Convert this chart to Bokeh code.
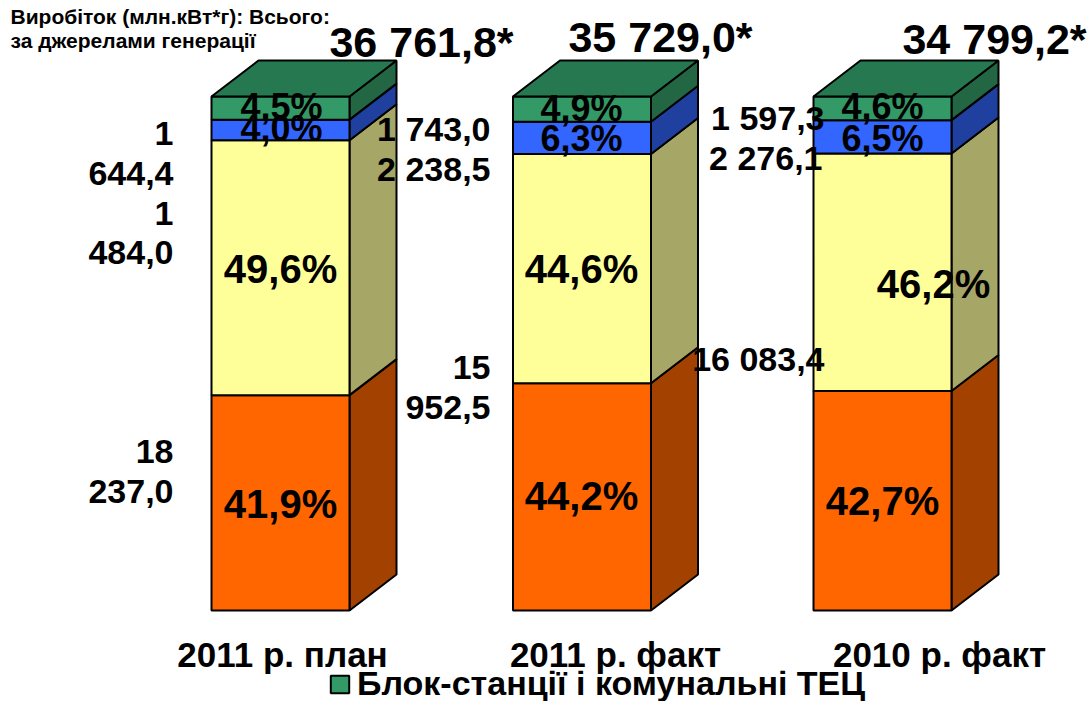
from bokeh.plotting import figure
from bokeh.models import Range1d, Legend, LegendItem
from bokeh.core.properties import value
from bokeh.embed import file_html
from bokeh.resources import INLINE

# ---- data
categories = ["2011 р. план", "2011 р. факт", "2010 р. факт"]
shares_orange = [41.9, 44.2, 42.7]
shares_yellow = [49.6, 44.6, 46.2]
shares_blue = [4.0, 6.3, 6.5]
shares_green = [4.5, 4.9, 4.6]
totals = ["36 761,8*", "35 729,0*", "34 799,2*"]
share_labels_orange = ["41,9%", "44,2%", "42,7%"]
share_labels_yellow = ["49,6%", "44,6%", "46,2%"]
share_labels_blue = ["4,0%", "6,3%", "6,5%"]
share_labels_green = ["4,5%", "4,9%", "4,6%"]
legend_label = "Блок-станції і комунальні ТЕЦ"
header_lines = ["Виробіток (млн.кВт*г): Всього:", "за джерелами генерації"]

# ---- layout (pixels of the picture -> data)
W, H = 1091, 701
OFF = 0
X0, PX_PER_BAR = 280.0, 301.5
Y0, PX_PER_PCT = 610.0, 5.14
def dx(px): return (px - X0) / PX_PER_BAR
def dy(py): return (Y0 - py) / PX_PER_PCT

BAR_W = 138 / PX_PER_BAR
DEPTH_X = 47 / PX_PER_BAR
DEPTH_Y = 36 / PX_PER_PCT
FONT = value("Liberation Sans")

p = figure(width=W, height=H, output_backend="svg", toolbar_location=None,
           x_range=Range1d(dx(OFF), dx(OFF + W)), y_range=Range1d(dy(OFF + H), dy(OFF)),
           min_border=0, outline_line_color=None)
p.axis.visible = False
p.grid.visible = False
p.background_fill_color = "white"
p.border_fill_color = "white"

layers = [
    (shares_orange, "#FF6600", "#A34100"),
    (shares_yellow, "#FFFF99", "#A6A666"),
    (shares_blue, "#3366FF", "#2040A0"),
    (shares_green, "#339966", "#226644"),
]
centers = [0, 1, 2.0 - 0.0033]
base = [0.0, 0.0, 0.0]
green_r = None
for vals, front, side in layers:
    top = [b + v for b, v in zip(base, vals)]
    xr = [c + BAR_W / 2 for c in centers]
    xs = [[x, x + DEPTH_X, x + DEPTH_X, x] for x in xr]
    ys = [[b, b + DEPTH_Y, t + DEPTH_Y, t] for b, t in zip(base, top)]
    p.patches(xs, ys, fill_color=side, line_color="black", line_width=2)
    r = p.quad(left=[c - BAR_W / 2 for c in centers], right=xr, bottom=base, top=top,
               fill_color=front, line_color="black", line_width=2)
    if front == "#339966":
        green_r = r
    base = top

# top faces
xl = [c - BAR_W / 2 for c in centers]
xr = [c + BAR_W / 2 for c in centers]
p.patches([[a, b, b + DEPTH_X, a + DEPTH_X] for a, b in zip(xl, xr)],
          [[t, t, t + DEPTH_Y, t + DEPTH_Y] for t in base],
          fill_color="#267850", line_color="black", line_width=2)

def txt(x, y, s, size, align="center"):
    p.text(x=[dx(v) for v in x], y=[dy(v) for v in y], text=s, text_font=FONT,
           text_font_size=f"{size}px", text_font_style="bold", text_color="black",
           text_align=align, text_baseline="middle")

# percentage labels
txt([280, 581, 882], [503, 495, 500], share_labels_orange, 40)
txt([280, 581, 933], [268, 268, 283], share_labels_yellow, 40)
txt([281, 581, 882], [128, 138, 138], share_labels_blue, 36)
txt([281, 581, 882], [106, 108, 106], share_labels_green, 36)

# absolute values (wrapped as in the picture)
txt([173, 173, 173, 173, 173, 173],
    [133, 173, 213, 252, 451, 491],
    ["1", "644,4", "1", "484,0", "18", "237,0"], 34, "right")
txt([490, 490, 490, 490], [128, 168, 367, 407],
    ["1 743,0", "2 238,5", "15", "952,5"], 34, "right")
txt([824, 822, 824], [117, 157, 358], ["1 597,3", "2 276,1", "16 083,4"], 34, "right")

# totals
txt([421, 660, 994], [41, 36, 38], totals, 43)

# header
txt([10, 10], [16, 40], header_lines, 21, "left")

# categories
txt([282, 615, 939], [654, 654, 654], categories, 35)

leg = Legend(items=[LegendItem(label=legend_label, renderers=[green_r])],
             location=(328, -2), orientation="horizontal", background_fill_alpha=0,
             border_line_color=None, margin=0, padding=6, glyph_width=23, glyph_height=22,
             label_text_font="Liberation Sans", label_text_font_style="bold",
             label_text_font_size="34px", label_text_color="black", label_standoff=6)
p.add_layout(leg, "center")

open("out.html", "w").write(file_html(p, INLINE))
